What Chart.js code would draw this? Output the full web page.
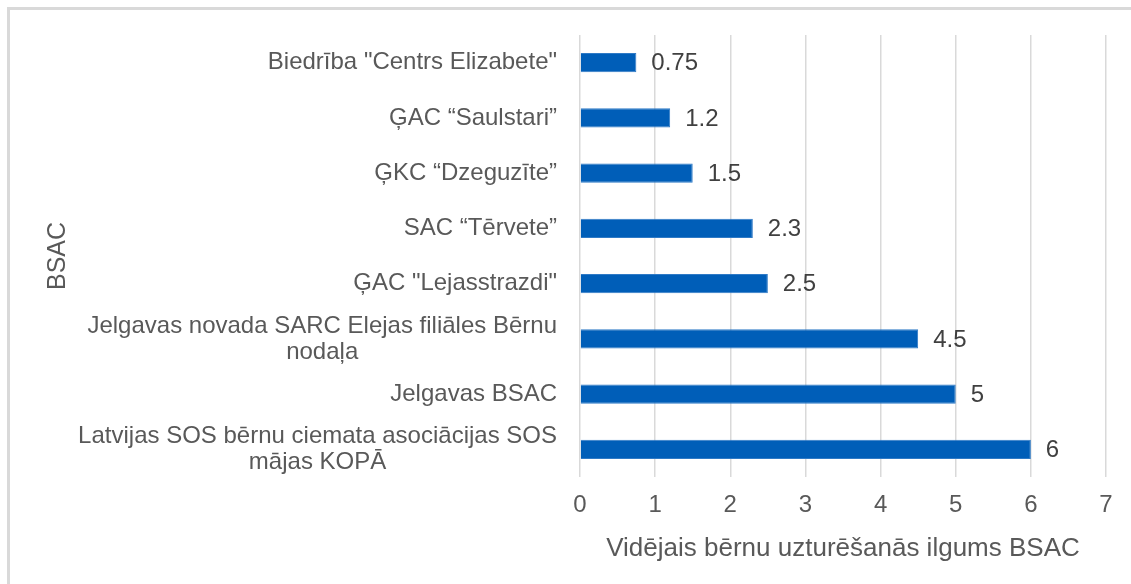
<!DOCTYPE html>
<html>
<head>
<meta charset="utf-8">
<script src="https://cdn.jsdelivr.net/npm/chart.js@4.4.1/dist/chart.umd.min.js"></script>
<style>
  html, body { margin: 0; padding: 0; background: #ffffff; width: 1131px; height: 584px; overflow: hidden; }
  #frame { position: absolute; left: 7px; top: 7px; width: 1124px; height: 577px;
           border-left: 3px solid #d9d9d9; border-top: 3px solid #d9d9d9; box-sizing: border-box; }
  #wrap { position: absolute; left: 0; top: 0; width: 1131px; height: 584px; }
</style>
</head>
<body>
<div id="frame"></div>
<div id="wrap"><canvas id="c" width="1131" height="584"></canvas></div>
<script>
const categories = [
  ['Biedrība "Centrs Elizabete"'],
  ['ĢAC “Saulstari”'],
  ['ĢKC “Dzeguzīte”'],
  ['SAC “Tērvete”'],
  ['ĢAC "Lejasstrazdi"'],
  ['Jelgavas novada SARC Elejas filiāles Bērnu', 'nodaļa'],
  ['Jelgavas BSAC'],
  ['Latvijas SOS bērnu ciemata asociācijas SOS', 'mājas KOPĀ']
];
const values = [0.75, 1.2, 1.5, 2.3, 2.5, 4.5, 5, 6];
const xTicks = [0, 1, 2, 3, 4, 5, 6, 7];
const xTitle = 'Vidējais bērnu uzturēšanās ilgums BSAC';
const yTitle = 'BSAC';

const FONT = '"Liberation Sans", Arial, sans-serif';
const TXT = '#595959';

const catLabelPlugin = {
  id: 'catLabels',
  afterDraw(chart) {
    const ctx = chart.ctx;
    const y = chart.scales.y;
    const rightEdge = chart.chartArea.left - 23;
    const size = 24, lh = 26;
    ctx.save();
    ctx.font = size + 'px ' + FONT;
    ctx.fillStyle = TXT;
    ctx.textBaseline = 'middle';
    ctx.textAlign = 'center';
    categories.forEach((lines, i) => {
      const cy = y.getPixelForTick(i);
      const maxW = Math.max(...lines.map(l => ctx.measureText(l).width));
      const cx = rightEdge - maxW / 2;
      const startY = cy - (lines.length - 1) * lh / 2;
      lines.forEach((l, j) => ctx.fillText(l, cx, startY + j * lh));
    });
    ctx.restore();
  }
};

const valueLabelPlugin = {
  id: 'valueLabels',
  afterDatasetsDraw(chart) {
    const ctx = chart.ctx;
    const meta = chart.getDatasetMeta(0);
    ctx.save();
    ctx.font = '24px ' + FONT;
    ctx.fillStyle = '#404040';
    ctx.textBaseline = 'middle';
    ctx.textAlign = 'left';
    meta.data.forEach((bar, i) => {
      ctx.fillText(String(values[i]), bar.x + 15, bar.y + 1);
    });
    ctx.restore();
  }
};

new Chart(document.getElementById('c'), {
  type: 'bar',
  data: {
    labels: categories,
    datasets: [{
      data: values,
      backgroundColor: '#005eb8',
      borderColor: '#2f7ac6',
      borderWidth: 1,
      barPercentage: 0.35,
      categoryPercentage: 1.0
    }]
  },
  options: {
    indexAxis: 'y',
    responsive: false,
    animation: false,
    devicePixelRatio: 1,
    layout: { padding: { left: 43, top: 35, right: 25, bottom: 0 } },
    plugins: { legend: { display: false }, tooltip: { enabled: false } },
    scales: {
      x: {
        min: 0, max: 7,
        afterBuildTicks: (s) => { s.ticks = xTicks.map(v => ({ value: v })); },
        afterFit: (s) => { s.height = 107; },
        grid: { color: '#d9d9d9', lineWidth: 1.5, drawTicks: false },
        border: { display: false },
        ticks: { color: TXT, font: { family: FONT, size: 24 }, padding: 14 },
        title: { display: true, text: xTitle, color: TXT,
                 font: { family: FONT, size: 26 }, padding: { top: 0, bottom: 20 } }
      },
      y: {
        afterFit: (s) => { s.width = 537; },
        grid: { display: false },
        border: { display: false },
        ticks: { display: false },
        title: { display: true, text: yTitle, color: TXT,
                 font: { family: FONT, size: 25 }, padding: { top: 0, bottom: 0 } }
      }
    }
  },
  plugins: [catLabelPlugin, valueLabelPlugin]
});
</script>
</body>
</html>
